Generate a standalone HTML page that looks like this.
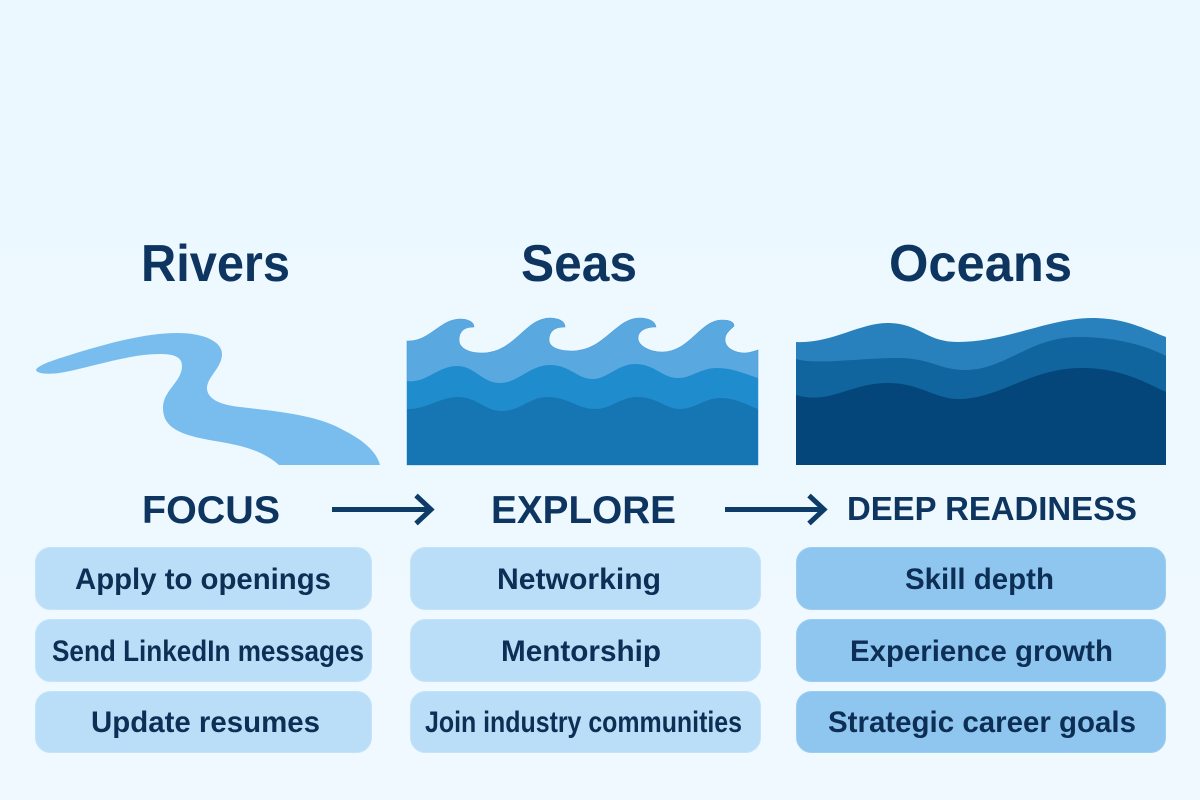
<!DOCTYPE html>
<html><head><meta charset="utf-8"><style>
html,body{margin:0;padding:0;width:1200px;height:800px;overflow:hidden;background:#ecf8ff}
svg{display:block}
text{font-family:"Liberation Sans",sans-serif;font-weight:700;fill:#0d3560}
.i{font-size:30px;fill:#0d2f55}
</style></head><body>
<svg width="1200" height="800" viewBox="0 0 1200 800" xmlns="http://www.w3.org/2000/svg">
<defs>
<linearGradient id="bg" x1="0" y1="0" x2="0" y2="1"><stop offset="0" stop-color="#ebf8ff"/><stop offset="1" stop-color="#f0f9ff"/></linearGradient>
</defs>
<rect width="1200" height="800" fill="url(#bg)"/>

<text x="141" y="281" font-size="52" textLength="149" lengthAdjust="spacingAndGlyphs">Rivers</text>
<text x="521" y="281" font-size="52" textLength="116" lengthAdjust="spacingAndGlyphs">Seas</text>
<text x="889" y="281" font-size="52" textLength="183" lengthAdjust="spacingAndGlyphs">Oceans</text>

<path fill="#78bdee" d="M36 370 C37 366 50 361 70 355 C105 344 145 333 177 333 C205 333 222 342 222 354 C222 368 206 378 207 389 C208 400 222 405 240 407 C285 412 320 416 345 431 C365 441 377 453 380 465 L279 465 C262 450 240 445 215 441 C180 435 163 428 163 408 C163 390 182 382 182 366 C182 356 172 354 160 354 C130 354 95 366 65 372 C50 375 37 374 36 370 Z"/>

<path fill="#5aa8e0" stroke="#4f9dd6" stroke-width="0.6" d="M407 341 C430 342 440 319 460 319 C468 319 474 322 474 327 C464 327 459 331 459 340 C459 348 468 353 482 353 C515 353 525 318 550 318 C558 318 565 321 565 327 C555 327 549 331 549 340 C549 347 558 351 572 351 C605 351 615 318 640 318 C648 318 655 321 656 327 C645 327 638 331 638 338 C638 346 650 352 662 352 C690 352 700 320 722 320 C730 320 734 322 734 326 C730 330 725 333 725 340 C725 348 735 353 745 353 C750 353 755 351 758 350 L758 465 L407 465 Z"/>
<path fill="#1f8dcd" d="M407 381 C425 384 438 366 457 366 C475 366 482 383 500 383 C518 383 530 365 550 365 C570 365 577 379 593 379 C607 379 618 364 635 364 C655 364 662 378 678 378 C692 378 700 368 717 368 C733 368 745 374 758 378 L758 465 L407 465 Z"/>
<path fill="#1676b4" d="M407 409 C425 410 440 397 458 397 C477 397 485 411 502 411 C520 411 530 397 547 397 C568 397 578 409 595 409 C612 409 620 397 637 397 C658 397 665 409 680 409 C695 409 705 398 720 398 C735 398 745 404 758 409 L758 465 L407 465 Z"/>

<path fill="#2881bd" d="M796 342 C830 344 860 323 887 323 C920 323 925 342 958 342 C1005 342 1050 318 1092 318 C1125 318 1145 329 1166 337 L1166 465 L796 465 Z"/>
<path fill="#11659f" d="M796 359 C815 365 860 358 898 358 C930 358 940 370 965 370 C1005 370 1030 337 1078 337 C1115 337 1145 345 1166 356 L1166 465 L796 465 Z"/>
<path fill="#04457a" d="M796 395 C830 405 850 383 888 383 C920 383 935 399 958 399 C1000 399 1030 368 1082 368 C1120 368 1145 382 1166 392 L1166 465 L796 465 Z"/>

<text x="142" y="523" font-size="39" textLength="138" lengthAdjust="spacingAndGlyphs">FOCUS</text>
<text x="491" y="523" font-size="39" textLength="185" lengthAdjust="spacingAndGlyphs">EXPLORE</text>
<text x="847" y="520" font-size="33" textLength="290" lengthAdjust="spacingAndGlyphs">DEEP READINESS</text>

<g fill="none" stroke="#0d3c68" stroke-width="5" stroke-linejoin="miter">
<path d="M332 509.5 H430"/><path d="M416 495.5 L431 509.5 L416 523.5" />
<path d="M725 509.5 H823"/><path d="M809 495.5 L824 509.5 L809 523.5" />
</g>

<g fill="#bbdef8" stroke="#c4e3fa" stroke-width="1">
<rect x="35.5" y="547.5" width="336" height="62" rx="15"/>
<rect x="35.5" y="619.5" width="336" height="62" rx="15"/>
<rect x="35.5" y="691.5" width="336" height="61" rx="15"/>
<rect x="410.5" y="547.5" width="350" height="62" rx="15"/>
<rect x="410.5" y="619.5" width="350" height="62" rx="15"/>
<rect x="410.5" y="691.5" width="350" height="61" rx="15"/>
</g>
<g fill="#8fc6ef" stroke="#9ccdf1" stroke-width="1">
<rect x="796.5" y="547.5" width="369" height="62" rx="15"/>
<rect x="796.5" y="619.5" width="369" height="62" rx="15"/>
<rect x="796.5" y="691.5" width="369" height="61" rx="15"/>
</g>

<text class="i" x="75" y="589" textLength="256" lengthAdjust="spacingAndGlyphs">Apply to openings</text>
<text class="i" x="52" y="661" textLength="312" lengthAdjust="spacingAndGlyphs">Send LinkedIn messages</text>
<text class="i" x="91" y="732" textLength="229" lengthAdjust="spacingAndGlyphs">Update resumes</text>
<text class="i" x="497" y="589" textLength="164" lengthAdjust="spacingAndGlyphs">Networking</text>
<text class="i" x="501" y="661" textLength="160" lengthAdjust="spacingAndGlyphs">Mentorship</text>
<text class="i" x="425" y="732" textLength="317" lengthAdjust="spacingAndGlyphs">Join industry communities</text>
<text class="i" x="905" y="589" textLength="149" lengthAdjust="spacingAndGlyphs">Skill depth</text>
<text class="i" x="850" y="661" textLength="263" lengthAdjust="spacingAndGlyphs">Experience growth</text>
<text class="i" x="828" y="732" textLength="308" lengthAdjust="spacingAndGlyphs">Strategic career goals</text>
</svg>
</body></html>
